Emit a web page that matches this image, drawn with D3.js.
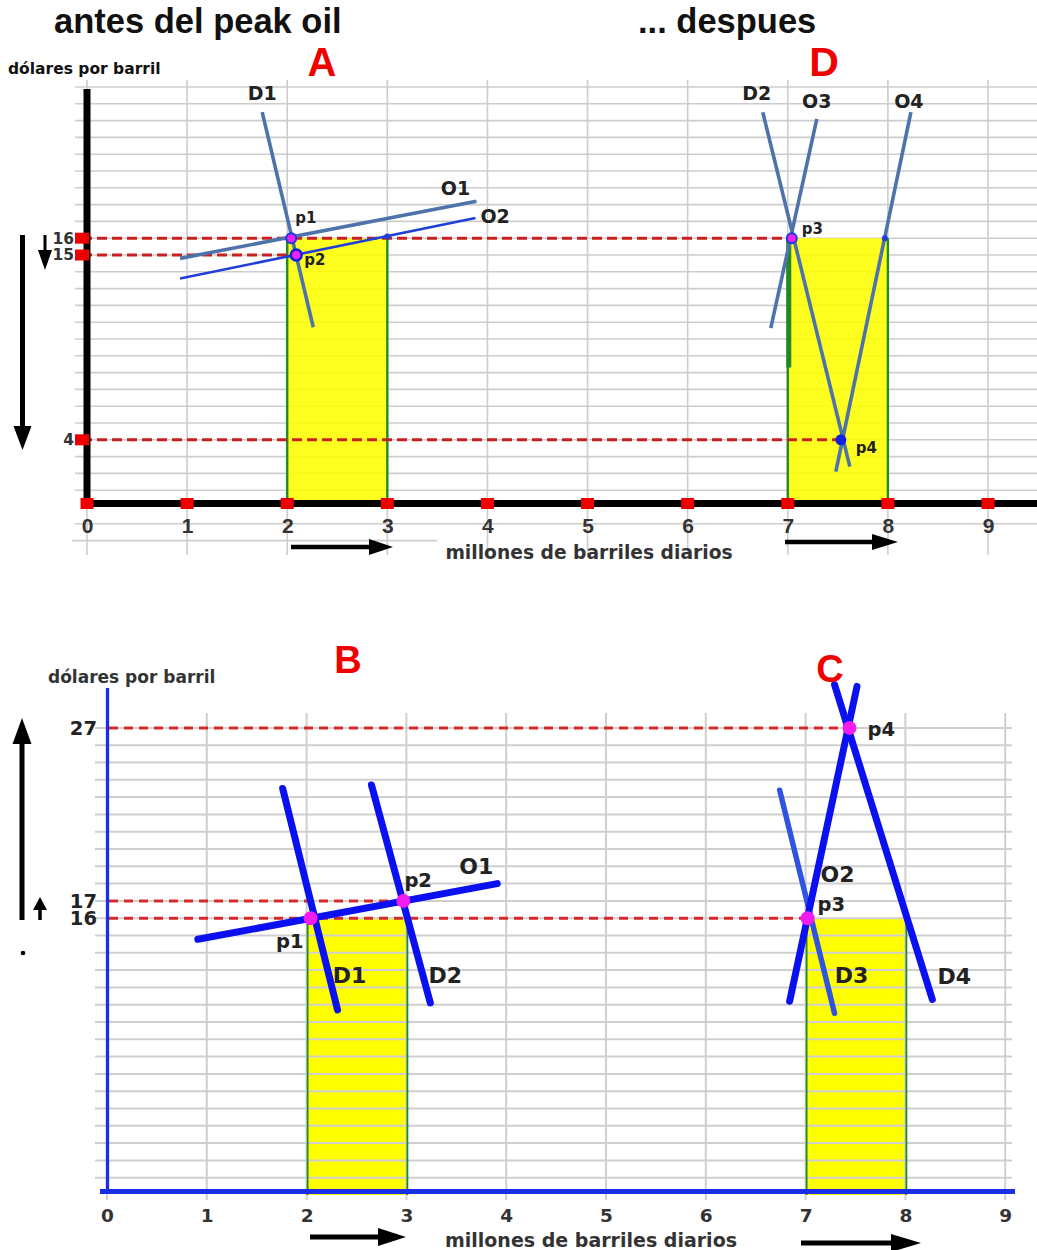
<!DOCTYPE html>
<html><head><meta charset="utf-8">
<script src="https://cdn.jsdelivr.net/npm/d3@7"></script>
<style>body{margin:0;background:#fff}</style>
</head><body>
<script>
// ---------------- DATA ----------------
const xTicks = [0, 1, 2, 3, 4, 5, 6, 7, 8, 9];

// Panel A / D (top): "antes del peak oil" / "... despues"
const topPriceTicks = [16, 15, 4];
const topSurplusX0 = [2, 7];
const topSurplusX1 = [3, 8];
const topSurplusPrice = [16, 16];
const topCurveNames = ["D1", "O1", "O2", "D2", "O3", "O4"];
const topCurveX1 = [1.75, 0.93, 0.93, 6.75, 7.29, 8.23];
const topCurveY1 = [23.5, 14.8, 13.6, 23.5, 23.1, 23.5];
const topCurveX2 = [2.26, 3.89, 3.88, 7.62, 6.83, 7.48];
const topCurveY2 = [10.7, 18.2, 17.2, 2.4, 10.65, 2.1];
const topPointNames = ["p1", "p2", "p3", "p4"];
const topPointX = [2.04, 2.09, 7.04, 7.53];
const topPointY = [16, 15, 16, 4];
const topGuidePrice = [16, 15, 4];
const topGuideEndX = [7.04, 2.09, 7.53];
const topMinorDotX = [3, 7.97];
const topMinorDotY = [16.1, 16];

// Panel B / C (bottom)
const botPriceTicks = [27, 17, 16];
const botSurplusX0 = [2, 7];
const botSurplusX1 = [3, 8];
const botSurplusPrice = [16, 16];
const botCurveNames = ["D1", "D2", "O1", "D3", "O2", "D4"];
const botCurveX1 = [1.76, 2.65, 0.91, 6.74, 7.515, 7.29];
const botCurveY1 = [23.5, 23.7, 14.78, 23.4, 29.4, 29.5];
const botCurveX2 = [2.31, 3.24, 3.91, 7.29, 6.84, 8.27];
const botCurveY2 = [10.7, 11.1, 18.0, 10.5, 11.2, 11.3];
const botPointNames = ["p1", "p2", "p3", "p4"];
const botPointX = [2.04, 2.97, 7.02, 7.44];
const botPointY = [16, 17, 16, 27];
const botGuidePrice = [27, 17, 16];
const botGuideEndX = [7.44, 2.97, 7.02];

// ---------------- LAYOUT ----------------
const W = 1037, H = 1250;
const LIB = "'Liberation Sans', Arial, sans-serif";
const DJV = "'DejaVu Sans', Verdana, sans-serif";

const svg = d3.select("body").append("svg").attr("width", W).attr("height", H);
svg.append("rect").attr("width", W).attr("height", H).attr("fill", "#fff");

function txt(g, x, y, s, size, opts = {}) {
  return g.append("text").attr("x", x).attr("y", y).text(s)
    .attr("font-family", opts.family || DJV)
    .attr("font-weight", opts.weight || "bold")
    .attr("font-size", size)
    .attr("fill", opts.fill || "#222")
    .attr("text-anchor", opts.anchor || "start");
}
function arrow(g, x1, y1, x2, y2, w, hl, hw) {
  const dx = x2 - x1, dy = y2 - y1, L = Math.hypot(dx, dy);
  const ux = dx / L, uy = dy / L, px = -uy, py = ux;
  const bx = x2 - ux * hl, by = y2 - uy * hl;
  g.append("line").attr("x1", x1).attr("y1", y1).attr("x2", bx).attr("y2", by)
    .attr("stroke", "#000").attr("stroke-width", w);
  g.append("path").attr("d", `M${x2},${y2}L${bx + px * hw},${by + py * hw}L${bx - px * hw},${by - py * hw}Z`)
    .attr("fill", "#000");
}

// Titles
txt(svg, 54, 33, "antes del peak oil", 34.5, {family: LIB, fill: "#111"});
txt(svg, 638, 33, "... despues", 34.5, {family: LIB, fill: "#111"});

// =============== TOP PANEL =================
{
  const x = d3.scaleLinear().domain([0, 9]).range([87, 988]);
  const y = d3.scaleLinear().domain([0, 25]).range([507, 87]);
  const g = svg.append("g");

  // grid
  g.selectAll(".hg").data(d3.range(-1, 26).filter(d => d !== 0)).join("line")
    .attr("x1", 75).attr("x2", W).attr("y1", d => y(d)).attr("y2", d => y(d))
    .attr("stroke", "#cdcdcd").attr("stroke-width", 1.6);
  g.append("line").attr("x1", 72).attr("x2", 437).attr("y1", y(-2)).attr("y2", y(-2))
    .attr("stroke", "#cdcdcd").attr("stroke-width", 1.6);
  g.selectAll(".vg").data(xTicks).join("line")
    .attr("x1", d => x(d)).attr("x2", d => x(d)).attr("y1", 80).attr("y2", 555)
    .attr("stroke", "#cdcdcd").attr("stroke-width", 1.6);

  // surplus rectangles
  topSurplusX0.forEach((x0, i) => {
    g.append("rect").attr("x", x(x0)).attr("y", y(topSurplusPrice[i]))
      .attr("width", x(topSurplusX1[i]) - x(x0)).attr("height", y(0) - y(topSurplusPrice[i]))
      .attr("fill", "#ffff00").attr("fill-opacity", 0.88);
    [x0, topSurplusX1[i]].forEach(v => g.append("line")
      .attr("x1", x(v)).attr("x2", x(v)).attr("y1", y(topSurplusPrice[i])).attr("y2", y(0))
      .attr("stroke", "#228a22").attr("stroke-width", 2.4));
  });
  g.append("line").attr("x1", x(7) + 1).attr("x2", x(7) + 1).attr("y1", y(16)).attr("y2", y(8.3))
    .attr("stroke", "#228a22").attr("stroke-width", 5);

  // guides
  topGuidePrice.forEach((p, i) => g.append("line")
    .attr("x1", 82).attr("x2", x(topGuideEndX[i])).attr("y1", y(p)).attr("y2", y(p))
    .attr("stroke", "#c8201e").attr("stroke-width", 3).attr("stroke-dasharray", "10,5"));

  // curves
  topCurveNames.forEach((n, i) => g.append("line")
    .attr("x1", x(topCurveX1[i])).attr("y1", y(topCurveY1[i]))
    .attr("x2", x(topCurveX2[i])).attr("y2", y(topCurveY2[i]))
    .attr("stroke", n === "O2" ? "#1f3fd6" : "#4d73aa")
    .attr("stroke-width", n === "O2" ? 2.6 : 3.6));

  // axes lines
  g.append("line").attr("x1", 83).attr("x2", W).attr("y1", 503.5).attr("y2", 503.5)
    .attr("stroke", "#000").attr("stroke-width", 7);
  g.append("line").attr("x1", 87).attr("x2", 87).attr("y1", 89).attr("y2", 507)
    .attr("stroke", "#000").attr("stroke-width", 7);

  // red square markers
  g.selectAll(".sqx").data(xTicks).join("rect")
    .attr("x", d => x(d) - 6.5).attr("y", 498).attr("width", 13).attr("height", 11).attr("fill", "#ee0000");
  g.selectAll(".sqy").data(topPriceTicks).join("rect")
    .attr("x", 75).attr("y", d => y(d) - 5.5).attr("width", 14).attr("height", 11).attr("fill", "#ee0000");

  // tick labels via axes
  const ax = g.append("g").attr("transform", "translate(0,503)")
    .call(d3.axisBottom(x).tickValues(xTicks).tickSize(0).tickFormat(d3.format("d")));
  ax.select(".domain").remove();
  ax.selectAll("text").attr("dy", null).attr("y", 30)
    .attr("font-family", LIB).attr("font-weight", "bold").attr("font-size", 21).attr("fill", "#333");
  const ay = g.append("g").attr("transform", "translate(74,0)")
    .call(d3.axisLeft(y).tickValues(topPriceTicks).tickSize(0).tickPadding(0));
  ay.select(".domain").remove();
  ay.selectAll("text").attr("font-family", DJV).attr("font-weight", "bold")
    .attr("font-size", 15.5).attr("fill", "#333");

  // small dots
  topMinorDotX.forEach((v, i) => g.append("circle").attr("cx", x(v)).attr("cy", y(topMinorDotY[i]))
    .attr("r", 3).attr("fill", "#1f3fd6"));

  // points
  topPointNames.forEach((n, i) => {
    const c = g.append("circle").attr("cx", x(topPointX[i])).attr("cy", y(topPointY[i]));
    if (n === "p4") c.attr("r", 5.5).attr("fill", "#1020e0");
    else if (n === "p2") c.attr("r", 5.5).attr("fill", "#ee22ee").attr("stroke", "#1020e0").attr("stroke-width", 2.5);
    else c.attr("r", 5).attr("fill", "#ee22ee").attr("stroke", "#1a3be0").attr("stroke-width", 2);
  });

  // labels
  const cOff = {D1: [0, -12, "middle", 1], O1: [-21, -6, "middle", 2], O2: [5, 5, "start", 2],
                D2: [-6, -12, "middle", 1], O3: [0, -11, "middle", 1], O4: [-2, -4, "middle", 1]};
  topCurveNames.forEach((n, i) => {
    const o = cOff[n];
    const px = o[3] === 1 ? x(topCurveX1[i]) : x(topCurveX2[i]);
    const py = o[3] === 1 ? y(topCurveY1[i]) : y(topCurveY2[i]);
    txt(g, px + o[0], py + o[1], n, 19, {anchor: o[2]});
  });
  const pOff = {p1: [4, -15], p2: [8, 10], p3: [10, -4], p4: [15, 13]};
  topPointNames.forEach((n, i) => txt(g, x(topPointX[i]) + pOff[n][0], y(topPointY[i]) + pOff[n][1], n, 15));

  // panel letters, axis titles
  txt(g, 322, 76, "A", 40, {family: LIB, fill: "#f00000", anchor: "middle"});
  txt(g, 824, 76, "D", 41, {family: LIB, fill: "#f00000", anchor: "middle"});
  txt(g, 8, 74, "dólares por barril", 15.5, {fill: "#111"});
  txt(g, 589, 559, "millones de barriles diarios", 18.7, {fill: "#333", anchor: "middle"});

  // arrows
  arrow(g, 291, 547, 393, 547, 4.5, 24, 8);
  arrow(g, 785, 542, 898, 542, 4.5, 26, 8);
  arrow(g, 22.5, 235, 22.5, 450, 5, 24, 9);
  arrow(g, 45, 235, 45, 270, 3, 20, 7);
}

// =============== BOTTOM PANEL =================
{
  const x = d3.scaleLinear().domain([0, 9]).range([107, 1005.2]);
  const y = d3.scaleLinear().domain([0, 27]).range([1195, 727.9]);
  const g = svg.append("g");

  // surplus rectangles (under grid)
  botSurplusX0.forEach((x0, i) => {
    g.append("rect").attr("x", x(x0)).attr("y", y(botSurplusPrice[i]))
      .attr("width", x(botSurplusX1[i]) - x(x0)).attr("height", y(0) - y(botSurplusPrice[i]))
      .attr("fill", "#ffff00");
  });

  // grid
  g.selectAll(".hg").data(d3.range(1, 28)).join("line")
    .attr("x1", 95).attr("x2", 1012).attr("y1", d => y(d)).attr("y2", d => y(d))
    .attr("stroke", "#cfcfcf").attr("stroke-width", 2);
  g.selectAll(".vg").data(xTicks).join("line")
    .attr("x1", d => x(d)).attr("x2", d => x(d)).attr("y1", 713).attr("y2", 1200)
    .attr("stroke", "#cfcfcf").attr("stroke-width", 2);

  botSurplusX0.forEach((x0, i) => {
    [x0, botSurplusX1[i]].forEach(v => g.append("line")
      .attr("x1", x(v) + 1).attr("x2", x(v) + 1).attr("y1", y(botSurplusPrice[i])).attr("y2", y(0))
      .attr("stroke", "#228a22").attr("stroke-width", 1.8));
  });

  // guides
  botGuidePrice.forEach((p, i) => g.append("line")
    .attr("x1", 109).attr("x2", x(botGuideEndX[i])).attr("y1", y(p)).attr("y2", y(p))
    .attr("stroke", "#d42a2a").attr("stroke-width", 3).attr("stroke-dasharray", "9,6"));

  // curves
  botCurveNames.forEach((n, i) => g.append("line")
    .attr("x1", x(botCurveX1[i])).attr("y1", y(botCurveY1[i]))
    .attr("x2", x(botCurveX2[i])).attr("y2", y(botCurveY2[i]))
    .attr("stroke", n === "D3" ? "#2f55e0" : "#0a10f0")
    .attr("stroke-width", n === "D3" ? 5.5 : 7).attr("stroke-linecap", "round"));

  // axes
  g.append("line").attr("x1", 107.5).attr("x2", 107.5).attr("y1", 688).attr("y2", 1191)
    .attr("stroke", "#1a2ee8").attr("stroke-width", 3.3);
  g.append("line").attr("x1", 100).attr("x2", 1015).attr("y1", 1191.5).attr("y2", 1191.5)
    .attr("stroke", "#1a2ee8").attr("stroke-width", 5);

  const ax = g.append("g").attr("transform", "translate(0,1191)")
    .call(d3.axisBottom(x).tickValues(xTicks).tickSize(0).tickFormat(d3.format("d")));
  ax.select(".domain").remove();
  ax.selectAll("text").attr("dy", null).attr("y", 31)
    .attr("font-family", DJV).attr("font-weight", "bold").attr("font-size", 18.5).attr("fill", "#333");
  const ay = g.append("g").attr("transform", "translate(97,0)")
    .call(d3.axisLeft(y).tickValues(botPriceTicks).tickSize(0).tickPadding(0));
  ay.select(".domain").remove();
  ay.selectAll("text").attr("font-family", DJV).attr("font-weight", "bold")
    .attr("font-size", 19.5).attr("fill", "#222");

  // points
  botPointNames.forEach((n, i) => g.append("circle")
    .attr("cx", x(botPointX[i])).attr("cy", y(botPointY[i])).attr("r", 7).attr("fill", "#f01cf0"));

  // labels
  const cOff = {D1: [12, -27], D2: [15, -20], D3: [17, -30], D4: [22, -16], O1: [-21, -10]};
  botCurveNames.forEach((n, i) => {
    if (!cOff[n]) return;
    const o = cOff[n];
    txt(g, x(botCurveX2[i]) + o[0], y(botCurveY2[i]) + o[1], n, 22, {anchor: "middle"});
  });
  const pOff = {p1: [-7, 30, "end"], p2: [1, -14, "start"], p3: [10, -7, "start"], p4: [18, 8, "start"]};
  botPointNames.forEach((n, i) => txt(g, x(botPointX[i]) + pOff[n][0], y(botPointY[i]) + pOff[n][1], n, 19.5,
    {anchor: pOff[n][2]}));
  // O2 label near p3
  txt(g, x(botPointX[2]) + 30, y(botPointY[2]) - 36, "O2", 22, {anchor: "middle"});

  txt(g, 348, 673, "B", 38, {family: LIB, fill: "#f00000", anchor: "middle"});
  txt(g, 830, 682, "C", 38, {family: LIB, fill: "#f00000", anchor: "middle"});
  txt(g, 48, 683, "dólares por barril", 17, {fill: "#333"});
  txt(g, 591, 1247, "millones de barriles diarios", 19, {fill: "#333", anchor: "middle"});

  arrow(g, 310, 1237, 406, 1237, 5, 28, 9);
  arrow(g, 801, 1243, 921, 1243, 5, 30, 9);
  arrow(g, 22, 920, 22, 718, 5, 26, 9.5);
  arrow(g, 40, 920, 40, 897, 3.5, 13, 7);
  g.append("circle").attr("cx", 23).attr("cy", 953).attr("r", 2.3).attr("fill", "#000");
}
</script>
</body></html>
